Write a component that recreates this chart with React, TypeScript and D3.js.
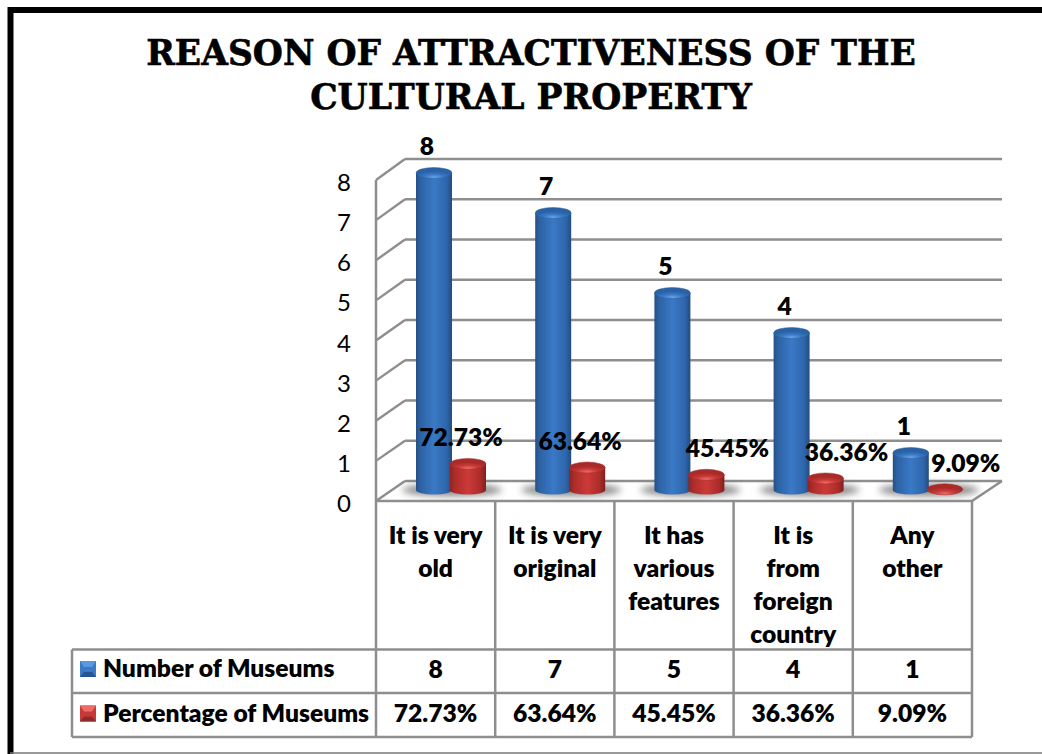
import React from "react";
import * as d3 from "d3";

const titleLines = ["REASON OF ATTRACTIVENESS OF THE", "CULTURAL PROPERTY"];
const categories = ["It is very old", "It is very original", "It has various features", "It is from foreign country", "Any other"];
const categoryLines = [["It is very", "old"], ["It is very", "original"], ["It has", "various", "features"], ["It is", "from", "foreign", "country"], ["Any", "other"]];
const museumsCount = [8, 7, 5, 4, 1];
const museumsPct = [72.73, 63.64, 45.45, 36.36, 9.09];
const countLabels = ["8", "7", "5", "4", "1"];
const pctLabels = ["72.73%", "63.64%", "45.45%", "36.36%", "9.09%"];
const yTicks = [0, 1, 2, 3, 4, 5, 6, 7, 8];
const seriesNames = ["Number of Museums", "Percentage of Museums"];

const FONT = "Lato, 'Noto Sans', sans-serif";
const GRID = "#8e8e8e";
const LABEL_SIZE = 24.6;

function Cylinder({ cx, topY, baseY, body, top, rim }: { cx: number; topY: number; baseY: number; body: string; top: string; rim: string }) {
  const rx = 18;
  const ry = 5.5;
  const sideBottom = baseY - 3;
  const showSide = sideBottom > topY + 1;
  return (
    <g>
      {showSide && (
        <path
          d={`M${cx - rx},${topY} L${cx - rx},${sideBottom} A${rx},4.5 0 0 0 ${cx + rx},${sideBottom} L${cx + rx},${topY} Z`}
          fill={`url(#${body})`}
        />
      )}
      <ellipse cx={cx} cy={topY} rx={rx} ry={ry} fill={`url(#${top})`} stroke={rim} strokeWidth={0.5} />
    </g>
  );
}

function LegendKey({ x, y, light, mid, dark }: { x: number; y: number; light: string; mid: string; dark: string }) {
  const s = 16;
  return (
    <g>
      <rect x={x} y={y} width={s} height={s} fill={mid} />
      <polygon points={`${x},${y} ${x + s},${y} ${x + s - 4},${y + 6} ${x + 4},${y + 6}`} fill={light} />
      <polygon points={`${x},${y + s} ${x + s},${y + s} ${x + s - 4},${y + 11} ${x + 4},${y + 11}`} fill={dark} />
    </g>
  );
}

export default function App() {
  const xBand = d3.scaleBand<string>().domain(categories).range([376, 972]);
  const step = xBand.step();
  const yFront = d3.scaleLinear().domain([0, 8]).range([501, 180]);
  const yBack = d3.scaleLinear().domain([0, 8]).range([481, 159]);
  const yBar = d3.scaleLinear().domain([0, 8]).range([493, 173]);
  const yTickText = d3.scaleLinear().domain([0, 8]).range([512, 191]);
  const backDx = 29;

  const tableTop = 501;
  const rowA = 649.5;
  const rowB = 693;
  const tableBottom = 737;
  const legendLeft = 72;
  const tableRight = xBand.range()[1];

  return (
    <svg width={1042} height={754} style={{ position: "absolute", left: 0, top: 0, background: "#fff" }} fontFamily={FONT}>
      <defs>
        <linearGradient id="blueBody" x1="0" x2="1" y1="0" y2="0">
          <stop offset="0" stopColor="#264f85" />
          <stop offset="0.12" stopColor="#2c62a4" />
          <stop offset="0.5" stopColor="#3a79c6" />
          <stop offset="0.85" stopColor="#2e66ac" />
          <stop offset="1" stopColor="#234c7c" />
        </linearGradient>
        <radialGradient id="blueTop" cx="0.5" cy="0.9" r="0.55">
          <stop offset="0" stopColor="#6aa4e6" />
          <stop offset="0.5" stopColor="#3a79c6" />
          <stop offset="1" stopColor="#2a62a6" />
        </radialGradient>
        <linearGradient id="redBody" x1="0" x2="1" y1="0" y2="0">
          <stop offset="0" stopColor="#8f2422" />
          <stop offset="0.15" stopColor="#ad2d2b" />
          <stop offset="0.5" stopColor="#cc3a38" />
          <stop offset="0.85" stopColor="#aa2c2a" />
          <stop offset="1" stopColor="#7f1f1e" />
        </linearGradient>
        <radialGradient id="redTop" cx="0.5" cy="0.9" r="0.55">
          <stop offset="0" stopColor="#ee6e6a" />
          <stop offset="0.5" stopColor="#c83a38" />
          <stop offset="1" stopColor="#a92b29" />
        </radialGradient>
        <filter id="soft" x="-30%" y="-100%" width="160%" height="300%">
          <feGaussianBlur stdDeviation="3.5" />
        </filter>
      </defs>

      <path d="M10.5,754 L10.5,10 L1042,10" fill="none" stroke="#000" strokeWidth={6} />
      <line x1={10} x2={1042} y1={753} y2={753} stroke="#777" strokeWidth={1.5} />

      {titleLines.map((t, i) => (
        <text
          key={t}
          x={531}
          y={65 + i * 43.5}
          textAnchor="middle"
          fontFamily="'DejaVu Serif', serif"
          fontWeight={700}
          fontSize={34.5}
          fill="#000"
          stroke="#000"
          strokeWidth={0.6}
        >
          {t}
        </text>
      ))}

      {/* walls */}
      {yTicks.map((t) => (
        <g key={t} stroke={GRID} strokeWidth={2.4} fill="none">
          <line x1={376} y1={yFront(t)} x2={376 + backDx} y2={yBack(t)} />
          <line x1={376 + backDx} y1={yBack(t)} x2={1002} y2={yBack(t)} />
        </g>
      ))}
      <line x1={376} x2={376} y1={yFront(8)} y2={tableBottom} stroke={GRID} strokeWidth={2.5} />
      <polyline points={`${tableRight},501 1002,${yBack(0)}`} fill="none" stroke={GRID} strokeWidth={2.4} />

      {yTicks.map((t) => (
        <text key={t} x={344} y={yTickText(t)} textAnchor="middle" fontSize={24} fill="#000">
          {t}
        </text>
      ))}

      {/* floor shadows */}
      {categories.map((c) => {
        const x0 = xBand(c)!;
        return <ellipse key={c} cx={x0 + 76} cy={490} rx={50} ry={6} fill="#444" opacity={0.65} filter="url(#soft)" />;
      })}

      {/* cylinders */}
      {categories.map((c, i) => {
        const x0 = xBand(c)!;
        return (
          <g key={c}>
            <Cylinder cx={x0 + 58} topY={yBar(museumsCount[i])} baseY={yBar(0)} body="blueBody" top="blueTop" rim="#2a5f9f" />
            <Cylinder cx={x0 + 92} topY={yBar(museumsPct[i] / 100)} baseY={yBar(0)} body="redBody" top="redTop" rim="#a92b29" />
          </g>
        );
      })}

      {/* data labels */}
      {categories.map((c, i) => {
        const x0 = xBand(c)!;
        const pctShift = museumsPct[i] > 50 ? -7 : 21;
        return (
          <g key={c} fontWeight={800} fontSize={LABEL_SIZE} fill="#000" textAnchor="middle">
            <text x={x0 + 51} y={yBar(museumsCount[i]) - 18}>{countLabels[i]}</text>
            <text x={x0 + 92 + pctShift} y={yBar(museumsPct[i] / 100) - 17.5}>{pctLabels[i]}</text>
          </g>
        );
      })}

      {/* table */}
      <g stroke={GRID} strokeWidth={2.5} fill="none">
        <line x1={376} x2={tableRight} y1={tableTop} y2={tableTop} />
        <line x1={legendLeft} x2={tableRight} y1={rowA} y2={rowA} />
        <line x1={legendLeft} x2={tableRight} y1={rowB} y2={rowB} />
        <line x1={legendLeft} x2={tableRight} y1={tableBottom} y2={tableBottom} />
        <line x1={legendLeft} x2={legendLeft} y1={rowA} y2={tableBottom} />
        {categories.map((c) => (
          <line key={c} x1={xBand(c)! + step} x2={xBand(c)! + step} y1={tableTop} y2={tableBottom} />
        ))}
      </g>

      {categories.map((c, i) => {
        const cx = xBand(c)! + step / 2;
        return (
          <g key={c} fontWeight={800} fontSize={LABEL_SIZE} fill="#000" textAnchor="middle">
            {categoryLines[i].map((l, j) => (
              <text key={j} x={cx} y={544 + j * 33}>{l}</text>
            ))}
            <text x={cx} y={678}>{countLabels[i]}</text>
            <text x={cx} y={722}>{pctLabels[i]}</text>
          </g>
        );
      })}

      <LegendKey x={80} y={661} light="#5b97df" mid="#3a79c6" dark="#26568f" />
      <LegendKey x={80} y={705.5} light="#ee6a66" mid="#c63a38" dark="#8f2a28" />
      {seriesNames.map((s, i) => (
        <text key={s} x={103} y={677 + i * 44.5} fontWeight={800} fontSize={LABEL_SIZE} fill="#000">
          {s}
        </text>
      ))}
    </svg>
  );
}
